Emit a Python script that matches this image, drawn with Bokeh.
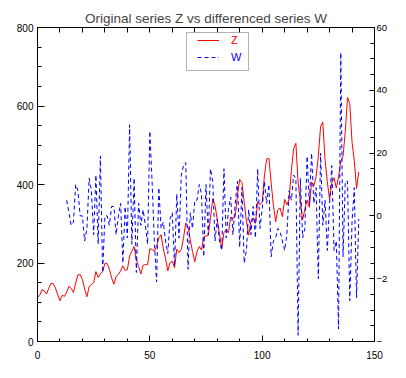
from bokeh.plotting import figure
from bokeh.models import (Range1d, LinearAxis, FixedTicker, Legend, LegendItem,
                          BoxAnnotation, ColumnDataSource)
from bokeh.embed import file_html
from bokeh.resources import INLINE

# ---- data ----
Z = [112, 118, 132, 129, 121, 135, 148, 148, 136, 119, 104, 118,
     115, 126, 141, 135, 125, 149, 170, 170, 158, 133, 114, 140,
     145, 150, 178, 163, 172, 178, 199, 199, 184, 162, 146, 166,
     171, 180, 193, 181, 183, 218, 230, 242, 209, 191, 172, 194,
     196, 196, 236, 235, 229, 243, 264, 272, 237, 211, 180, 201,
     204, 188, 235, 227, 234, 264, 302, 293, 259, 229, 203, 229,
     242, 233, 267, 269, 270, 315, 364, 347, 312, 274, 237, 278,
     284, 277, 317, 313, 318, 374, 413, 405, 355, 306, 271, 306,
     315, 301, 356, 348, 355, 422, 465, 467, 404, 347, 305, 336,
     340, 318, 362, 348, 363, 435, 491, 505, 404, 359, 310, 337,
     360, 342, 406, 396, 420, 472, 548, 559, 463, 407, 362, 405,
     417, 391, 419, 461, 472, 535, 622, 606, 508, 461, 390, 432]
Z_X = list(range(0, 144))

W = [5, 1, -3, -2, 10, 8, 0, 0, -8, -4, 12,
     8, -6, 13, -9, 19, -18, 0, 0, -3, 3, 3, -6,
     0, 4, -15, 3, -7, 29, -9, 12, -18, 4, -3, 2,
     -3, -9, 27, 11, -8, -21, 9, -4, -2, -8, -12, -1,
     1, -16, 7, -7, 13, 16, 17, -17, 1, -4, 5, 5,
     10, 7, -13, 10, -6, 15, 11, -8, -1, -8, -11, 15,
     -7, 2, 6, -6, 4, 11, -10, 9, -15, -11, 2, -6,
     3, -7, 15, -4, 2, 11, 4, 10, -13, -8, -7, -4,
     -5, -8, -11, -6, 8, 5, 13, 12, -38, 12, -7, -4,
     19, 4, 20, 4, 9, -20, 20, -3, 5, -11, 4, 16,
     -11, -8, -36, 52, -13, 11, 11, -27, -2, 9, -26, -1]
W_X = list(range(13, 144))

X_TICKS = [0, 50, 100, 150]
X_MINOR = list(range(0, 151, 10))
Z_TICKS = [0, 200, 400, 600, 800]
Z_MINOR = list(range(0, 801, 50))
W_TICKS = [-40, -20, 0, 20, 40, 60]
W_MINOR = list(range(-40, 61, 5))
W_LABELS = {-40: "\u2212", -20: "\u22122", 0: "0", 20: "20", 40: "40", 60: "60"}

TITLE = "Original series Z vs differenced series W"
FONT = "Liberation Sans"

p = figure(width=390, height=362, output_backend="svg", toolbar_location=None,
           x_range=Range1d(0, 150), y_range=Range1d(0, 800),
           min_border_left=37, min_border_right=11, min_border_top=27,
           min_border_bottom=21, x_axis_location=None, y_axis_location=None)
p.extra_y_ranges = {"w": Range1d(-40, 60)}
p.xgrid.visible = False
p.ygrid.visible = False
p.outline_line_color = "black"
p.background_fill_color = "white"
p.border_fill_color = "white"

p.title.text = TITLE
p.title.text_font = FONT
p.title.text_font_size = "13.5px"
p.title.text_font_style = "normal"
p.title.align = "center"
p.title.standoff = 4
p.title.offset = 0


def style_axis(ax, size_major, size_minor, standoff, fsize="10px"):
    ax.axis_line_color = "black"
    ax.major_tick_in = size_major
    ax.major_tick_out = 0
    ax.minor_tick_in = size_minor
    ax.minor_tick_out = 0
    ax.major_tick_line_color = "black"
    ax.minor_tick_line_color = "black"
    ax.major_label_text_font = FONT
    ax.major_label_text_font_size = fsize
    ax.major_label_text_color = "black"
    ax.major_label_standoff = standoff


xb = LinearAxis(ticker=FixedTicker(ticks=X_TICKS, minor_ticks=X_MINOR))
style_axis(xb, 6, 3, 9)
p.add_layout(xb, "below")

# top axis: ticks only, no labels
xt = LinearAxis(ticker=FixedTicker(ticks=[], minor_ticks=X_MINOR))
style_axis(xt, 5, 5, 0)
p.add_layout(xt, "above")

yl = LinearAxis(ticker=FixedTicker(ticks=Z_TICKS, minor_ticks=Z_MINOR))
style_axis(yl, 7, 4, 4)
p.add_layout(yl, "left")

yr = LinearAxis(y_range_name="w", ticker=FixedTicker(ticks=W_TICKS, minor_ticks=W_MINOR))
style_axis(yr, 5, 4, 2, "9.5px")
yr.major_label_overrides = W_LABELS
p.add_layout(yr, "right")

src_z = ColumnDataSource(dict(x=Z_X, y=Z))
src_w = ColumnDataSource(dict(x=W_X, y=W))
rz = p.line("x", "y", source=src_z, line_color="#ff0000", line_width=1)
rw = p.line("x", "y", source=src_w, line_color="#0000ff", line_width=1,
            line_dash="4 3", y_range_name="w")

# legend frame (screen units relative to plot frame, y from bottom)
box = BoxAnnotation(left=149, right=211, bottom=271, top=309,
                    left_units="screen", right_units="screen",
                    bottom_units="screen", top_units="screen",
                    fill_color="white", fill_alpha=1.0,
                    line_color="black", line_width=1, level="overlay")
p.add_layout(box)


def make_legend(label, renderer, color, ypos):
    lg = Legend(items=[LegendItem(label=label, renderers=[renderer])],
                location=(160, ypos), padding=0, margin=0, spacing=0,
                glyph_width=22, glyph_height=10, label_height=10,
                label_standoff=12, label_text_font=FONT,
                label_text_font_size="11px", label_text_color=color,
                border_line_color=None, background_fill_alpha=0.0)
    p.add_layout(lg, "center")
    return lg


make_legend("Z", rz, "#ff0000", 295)
make_legend("W", rw, "#0000ff", 278)

open("out.html", "w").write(file_html(p, INLINE))
